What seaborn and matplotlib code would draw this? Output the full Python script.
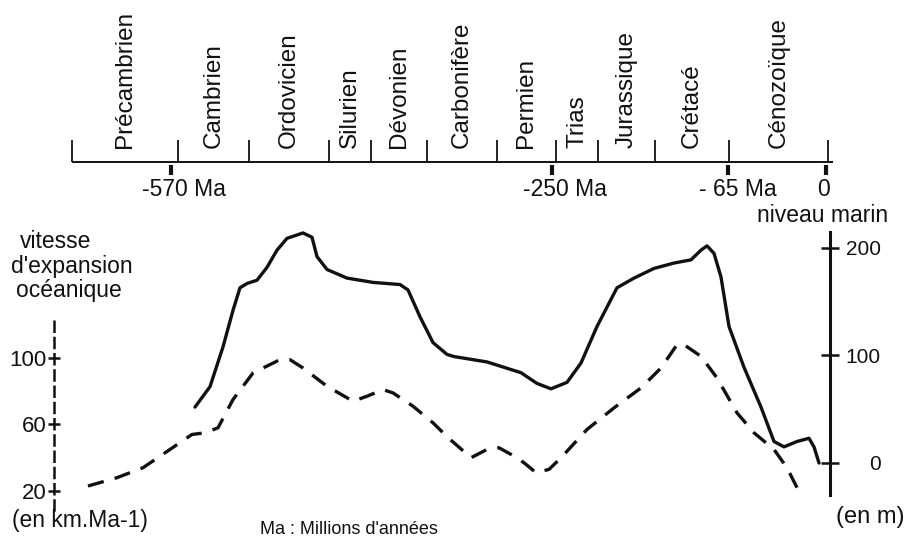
import matplotlib
matplotlib.use('Agg')
import matplotlib.pyplot as plt
import seaborn as sns

#%% Données lues sur la figure
# échelle des temps (position le long de l'axe horizontal)
periodes = ['Précambrien', 'Cambrien', 'Ordovicien', 'Silurien', 'Dévonien',
            'Carbonifère', 'Permien', 'Trias', 'Jurassique', 'Crétacé', 'Cénozoïque']
limites = [72, 178, 249, 329, 371, 427, 497, 556, 598, 655, 729, 828]
reperes_txt = ['-570 Ma', '-250 Ma', '- 65 Ma', '0']
reperes_pos = [171, 552, 728, 826]

# niveau marin (en m)
x_niveau = [195, 210, 223, 233, 240, 247, 257, 267, 277, 287, 303, 312, 317, 327,
            347, 373, 400, 408, 420, 433, 447, 454, 487, 521, 537, 551, 567, 581,
            597, 617, 634, 654, 674, 691, 701, 707, 714, 721, 729, 744, 761, 774,
            784, 797, 809, 814, 819]
niveau = [52, 71, 108, 142, 163, 167, 170, 182, 198, 209, 214, 210, 192, 180,
          172, 168, 166, 161, 136, 112, 101, 99, 94, 84, 74, 69, 75, 93,
          127, 163, 172, 181, 186, 189, 198, 202, 195, 173, 127, 89, 52, 20,
          15, 20, 23, 15, 0]

# vitesse d'expansion océanique (en km.Ma-1)
x_vitesse = [88, 117, 143, 170, 192, 205, 218, 233, 253, 280, 290, 303, 327, 353,
             367, 383, 393, 413, 433, 450, 454, 471, 487, 499, 511, 524, 536, 549,
             561, 587, 614, 641, 661, 677, 684, 701, 717, 737, 754, 774, 787, 797]
vitesse = [23, 28, 34, 45, 54, 55, 58, 75, 91, 99, 99, 94, 83, 74,
           77, 81, 79, 71, 61, 51, 49, 40, 45, 46, 42, 37, 31, 33,
           40, 57, 70, 82, 94, 108, 108, 101, 88, 67, 55, 45, 34, 22]

ticks_niveau = [0, 100, 200]
ticks_vitesse = [20, 60, 100]

#%% Figure
sns.set_style('white')
plt.rcParams['font.family'] = ['Liberation Sans', 'DejaVu Sans']
noir = '#111111'
taille = 16.5

fig = plt.figure(figsize=(9.08, 5.42), dpi=100)

# axe support pour la frise et les textes (repère en pixels)
ax_t = fig.add_axes([0, 0, 1, 1])
ax_t.set_xlim(0, 908)
ax_t.set_ylim(542, 0)
ax_t.axis('off')

# frise chronologique
ax_t.hlines(162, limites[0], limites[-1] + 5, color=noir, lw=1.4)
ax_t.vlines(limites, 140, 162, color=noir, lw=1.3)
for i, nom in enumerate(periodes):
    xc = (limites[i] + limites[i + 1]) / 2
    ax_t.text(xc, 148, nom, rotation=90, ha='center', va='bottom',
              fontsize=17.5, color=noir)
ax_t.vlines(reperes_pos, 165, 175, color=noir, lw=3)
for txt, pos in zip(reperes_txt, reperes_pos):
    if txt.endswith('Ma'):
        ax_t.text(pos - 29, 189, txt, ha='left', va='center', fontsize=taille, color=noir)
    else:
        ax_t.text(pos - 2, 189, txt, ha='center', va='center', fontsize=taille, color=noir)

# textes des axes
ax_t.text(56, 242, 'vitesse', ha='center', va='center', fontsize=taille, color=noir)
ax_t.text(72, 267, "d'expansion", ha='center', va='center', fontsize=taille, color=noir)
ax_t.text(69, 290, 'océanique', ha='center', va='center', fontsize=taille, color=noir)
ax_t.text(12, 520, '(en km.Ma-1)', ha='left', va='center', fontsize=taille, color=noir)
ax_t.text(260, 530, "Ma : Millions d'années", ha='left', va='center', fontsize=13, color=noir)
ax_t.text(757, 215, 'niveau marin', ha='left', va='center', fontsize=taille, color=noir)
ax_t.text(836, 517, '(en m)', ha='left', va='center', fontsize=17, color=noir)

# graphique : niveau marin (axe droit) et vitesse (axe gauche)
ax = fig.add_axes([0, 0, 1, 342 / 542])
ax2 = ax.twinx()
for a in (ax, ax2):
    a.patch.set_visible(False)
    a.set_xlim(0, 908)
    a.set_xticks([])
    for s in a.spines.values():
        s.set_visible(False)

ax.set_ylim(-73.5, 244.65)
sns.lineplot(x=x_niveau, y=niveau, ax=ax, color=noir, lw=2.4, estimator=None)
ax.spines['right'].set_visible(True)
ax.spines['right'].set_position(('data', 830))
ax.spines['right'].set_bounds(-30, 215)
ax.spines['right'].set_linewidth(2.2)
ax.spines['right'].set_color(noir)
ax.yaxis.tick_right()
ax.set_yticks(ticks_niveau)
ax.tick_params(axis='y', left=False, labelleft=False, right=True, labelright=True,
               direction='inout', length=13, width=1.8, color=noir,
               labelsize=15, labelcolor=noir, pad=30)
for lab in ax.get_yticklabels(which='both'):
    lab.set_horizontalalignment('right')
ax.set_ylabel('')

ax2.set_ylim(-10.68, 195.04)
sns.lineplot(x=x_vitesse, y=vitesse, ax=ax2, color=noir, lw=2.4, estimator=None)
ax2.lines[-1].set_dashes((4.9, 3.4))
ax2.spines['left'].set_visible(True)
ax2.spines['left'].set_position(('data', 54))
ax2.spines['left'].set_bounds(8.6, 122.9)
ax2.spines['left'].set_linewidth(1.8)
ax2.spines['left'].set_linestyle((0, (4, 2.5)))
ax2.spines['left'].set_color(noir)
ax2.yaxis.tick_left()
ax2.set_yticks(ticks_vitesse)
ax2.tick_params(axis='y', left=True, labelleft=True, right=False, labelright=False,
                direction='inout', length=9, width=1.8, color=noir,
                labelsize=16, labelcolor=noir, pad=1)
ax2.set_ylabel('')

fig.savefig('out.png', dpi=100)
